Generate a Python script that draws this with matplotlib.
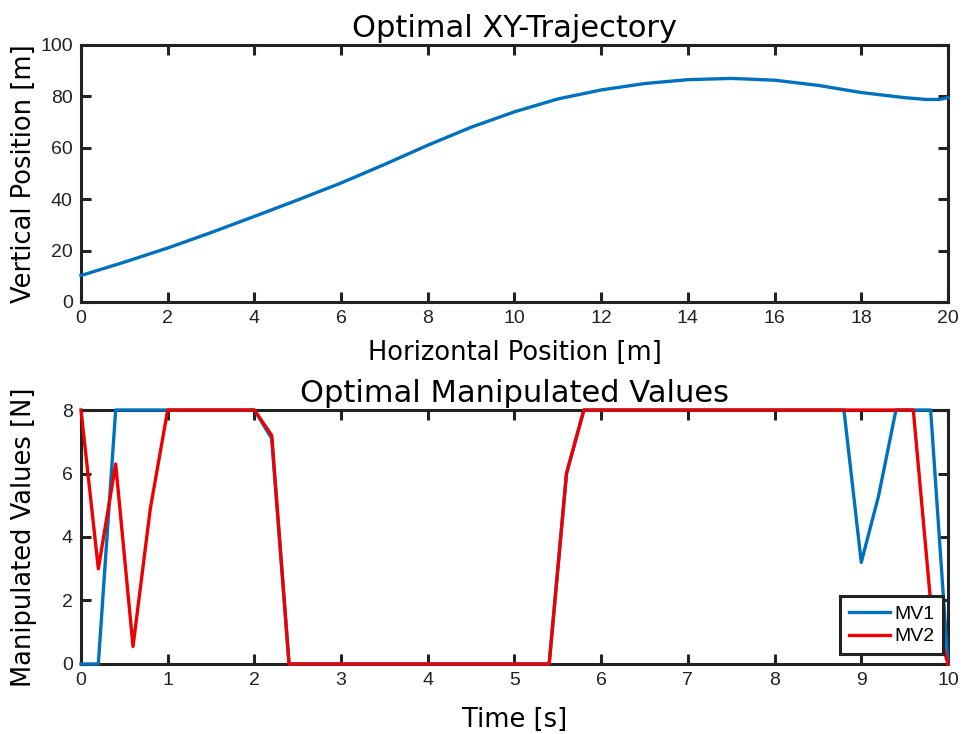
import numpy as np
import matplotlib.pyplot as plt

# ==================== DATA ====================
# XY trajectory
x_pos = [0, 1, 2, 3, 4, 5, 6, 7, 8, 9, 10, 11, 12, 13, 14, 15, 16, 17, 18, 19, 19.5, 19.8, 20]
y_pos = [10.3, 15.5, 21, 27, 33.3, 39.7, 46.3, 53.5, 61, 68, 74, 79, 82.5, 85, 86.5, 87, 86.3, 84.3, 81.5, 79.5, 78.8, 78.8, 79.5]

# Manipulated values, sampled every 0.2 s
t = [0, 0.2, 0.4, 0.6, 0.8, 1.0, 2.0, 2.2, 2.4, 5.4, 5.6, 5.8,
     8.8, 9.0, 9.2, 9.4, 9.6, 9.8, 10.0]
mv1 = [0, 0, 8, 8, 8, 8, 8, 7.1, 0, 0, 6.0, 8,
       8, 3.2, 5.3, 8, 8, 8, 0]
mv2 = [8, 3.0, 6.3, 0.55, 4.9, 8, 8, 7.2, 0, 0, 6.0, 8,
       8, 8, 8, 8, 8, 1.95, 0]

# ==================== STYLE ====================
label_font = 'DejaVu Sans'
tick_font = 'Liberation Sans'
blue = '#0072BD'
red = '#EE0000'


def style_axes(ax):
    for s in ax.spines.values():
        s.set_linewidth(2.2)
        s.set_color('#222222')
    ax.tick_params(direction='in', length=7, width=2.2, top=True, right=True,
                   labelsize=14, colors='#222222', pad=6)
    for lab in ax.get_xticklabels() + ax.get_yticklabels():
        lab.set_fontfamily(tick_font)


fig = plt.figure(figsize=(9.63, 7.34), dpi=100)

# Top: trajectory
ax1 = fig.add_axes([0.0841, 0.5886, 0.9003, 0.3501])
ax1.plot(x_pos, y_pos, color=blue, lw=2.4, clip_on=False, zorder=3)
ax1.set_xlim(0, 20)
ax1.set_ylim(0, 100)
ax1.set_xticks(np.arange(0, 21, 2))
ax1.set_yticks(np.arange(0, 101, 20))
style_axes(ax1)
ax1.set_title('Optimal XY-Trajectory', fontfamily=label_font, fontsize=22, pad=6)
ax1.set_xlabel('Horizontal Position [m]', fontfamily=label_font, fontsize=18.5, labelpad=9)
ax1.set_ylabel('Vertical Position [m]', fontfamily=label_font, fontsize=18.5)
ax1.yaxis.set_label_coords(-0.0507, 0.5)

# Bottom: manipulated values
ax2 = fig.add_axes([0.0841, 0.0954, 0.9003, 0.3460])
ax2.plot(t, mv1, color=blue, lw=2.4, label='MV1', clip_on=False, zorder=3)
ax2.plot(t, mv2, color=red, lw=2.4, label='MV2', clip_on=False, zorder=3.1)
ax2.set_xlim(0, 10)
ax2.set_ylim(0, 8)
ax2.set_xticks(np.arange(0, 11, 1))
ax2.set_yticks(np.arange(0, 9, 2))
style_axes(ax2)
ax2.set_title('Optimal Manipulated Values', fontfamily=label_font, fontsize=22, pad=5.5)
ax2.set_xlabel('Time [s]', fontfamily=label_font, fontsize=18.5, labelpad=12.5)
ax2.set_ylabel('Manipulated Values [N]', fontfamily=label_font, fontsize=18.5)
ax2.yaxis.set_label_coords(-0.0507, 0.5)

leg = ax2.legend(loc='lower right', bbox_to_anchor=(0.994, 0.039),
                 prop={'family': tick_font, 'size': 14},
                 fancybox=False, framealpha=1, edgecolor='#222222',
                 borderaxespad=0, handlelength=2.1, borderpad=0.45,
                 labelspacing=0.25, handletextpad=0.2)
leg.get_frame().set_linewidth(2.2)
leg.set_zorder(5)

fig.savefig('out.png', dpi=100)
